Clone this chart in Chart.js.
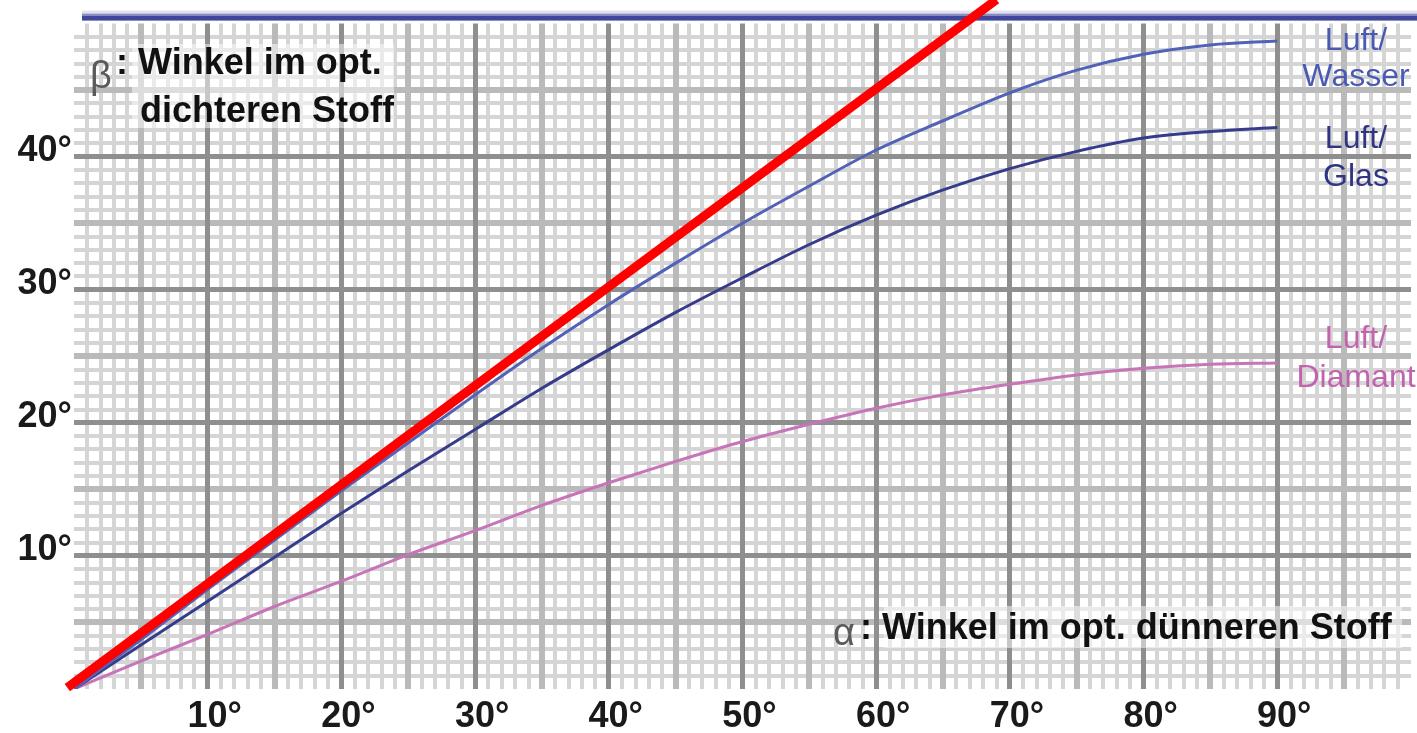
<!DOCTYPE html>
<html>
<head>
<meta charset="utf-8">
<script src="https://cdn.jsdelivr.net/npm/chart.js@4.4.1/dist/chart.umd.min.js"></script>
<style>
  html, body { margin: 0; padding: 0; background: #fff; }
  #wrap { width: 1417px; height: 733px; }
</style>
</head>
<body>
<div id="wrap"><canvas id="brechung"></canvas></div>
<script>
// Einfallswinkel alpha in Grad
const winkel = [0, 5, 10, 15, 20, 25, 30, 35, 40, 45, 50, 55, 60, 65, 70, 75, 80, 85, 90];
// Brechungswinkel beta
const luftWasser = [0, 3.7, 7.5, 11.2, 14.9, 18.5, 22.1, 25.6, 28.9, 32.0, 35.0, 37.8, 40.5, 42.7, 44.8, 46.5, 47.7, 48.4, 48.7];
const luftGlas = [0, 3.3, 6.6, 9.9, 13.2, 16.4, 19.5, 22.6, 25.5, 28.3, 30.9, 33.4, 35.6, 37.5, 39.1, 40.4, 41.4, 41.9, 42.2];
const luftDiamant = [0, 2.1, 4.1, 6.2, 8.1, 10.1, 11.9, 13.8, 15.5, 17.1, 18.6, 19.9, 21.1, 22.1, 22.9, 23.6, 24.1, 24.4, 24.5];
// rote Markierung
const markeX = [-0.5, 69];
const markeY = [0.1, 51.8];
const xBeschriftung = [10, 20, 30, 40, 50, 60, 70, 80, 90];
const yBeschriftung = [10, 20, 30, 40];

const punkte = (xs, ys) => xs.map((x, i) => ({ x: x, y: ys[i] }));

function gitterFarbe(v, max) {
  if (v <= 0 || v >= max) return 'rgba(0,0,0,0)';
  if (v % 10 === 0) return '#8f8f8f';
  if (v % 5 === 0) return '#bababa';
  return '#d5d5d5';
}
function gitterBreite(v) {
  if (v % 10 === 0) return 5;
  if (v % 5 === 0) return 6;
  return 4;
}

const schrift = 'Liberation Sans, Arial, sans-serif';

const beschriftung = {
  id: 'beschriftung',
  beforeDraw(chart) {
    // dunklere Gitterlinien sollen oben liegen
    chart.ctx.save();
    chart.ctx.globalCompositeOperation = 'darken';
  },
  beforeDatasetsDraw(chart) {
    const ctx = chart.ctx;
    ctx.restore();
    const y50 = chart.scales.y.getPixelForValue(50);
    const links = 82;
    const rechts = chart.width;
    ctx.save();
    ctx.fillStyle = '#e0e0ee';
    ctx.fillRect(links, y50 - 13, rechts - links, 3);
    ctx.fillStyle = '#8a8cc0';
    ctx.fillRect(links, y50 - 10, rechts - links, 2);
    ctx.fillStyle = '#40469c';
    ctx.fillRect(links, y50 - 8, rechts - links, 5);

    // helle Flaechen hinter den Achsentiteln
    ctx.fillStyle = 'rgba(255,255,255,0.5)';
    ctx.fillRect(132, 44, 262, 84);
    ctx.fillRect(884, 606, 518, 42);

    ctx.textBaseline = 'alphabetic';
    ctx.font = 'bold 36px ' + schrift;
    ctx.fillStyle = '#111';
    ctx.textAlign = 'left';
    ctx.fillText(': Winkel im opt.', 116, 74);
    ctx.fillText('dichteren Stoff', 140, 122);
    ctx.fillText(': Winkel im opt. dünneren Stoff', 860, 639);
    ctx.fillStyle = '#5a5a5a';
    ctx.font = '38px ' + schrift;
    ctx.fillText('β', 90, 88);
    ctx.fillText('α', 833, 645);

    ctx.font = '32px ' + schrift;
    ctx.textAlign = 'center';
    const xm = 1356;
    ctx.fillStyle = '#4a5ab3';
    ctx.fillText('Luft/', xm, 50);
    ctx.fillText('Wasser', xm, 86);
    ctx.fillStyle = '#2f3582';
    ctx.fillText('Luft/', xm, 148);
    ctx.fillText('Glas', xm, 186);
    ctx.fillStyle = '#c263ae';
    ctx.fillText('Luft/', xm, 348);
    ctx.fillText('Diamant', xm, 387);
    ctx.restore();
  }
};

new Chart(document.getElementById('brechung').getContext('2d'), {
  type: 'line',
  data: {
    datasets: [
      {
        data: punkte(markeX, markeY),
        borderColor: '#ff0000',
        borderWidth: 9,
        pointRadius: 0,
        clip: false
      },
      {
        data: punkte(winkel, luftWasser),
        borderColor: '#5262b8',
        borderWidth: 3,
        pointRadius: 0,
        cubicInterpolationMode: 'monotone'
      },
      {
        data: punkte(winkel, luftGlas),
        borderColor: '#363b8c',
        borderWidth: 3,
        pointRadius: 0,
        cubicInterpolationMode: 'monotone'
      },
      {
        data: punkte(winkel, luftDiamant),
        borderColor: '#c874b8',
        borderWidth: 3,
        pointRadius: 0,
        cubicInterpolationMode: 'monotone'
      }
    ]
  },
  options: {
    responsive: true,
    maintainAspectRatio: false,
    animation: false,
    layout: { padding: { top: 22, right: 0, left: 0, bottom: 0 } },
    plugins: {
      legend: { display: false },
      tooltip: { enabled: false }
    },
    scales: {
      x: {
        type: 'linear',
        min: 0,
        max: 100,
        border: { display: false },
        grid: {
          drawTicks: false,
          color: c => gitterFarbe(c.tick.value, 100),
          lineWidth: c => gitterBreite(c.tick.value)
        },
        ticks: {
          stepSize: 1,
          autoSkip: false,
          maxRotation: 0,
          padding: 6,
          labelOffset: 7,
          color: '#1a1a1a',
          font: { family: schrift, size: 36, weight: 'bold' },
          callback: v => xBeschriftung.includes(v) ? v + '°' : ''
        },
        afterFit: s => { s.height = 44; }
      },
      y: {
        type: 'linear',
        min: 0,
        max: 50,
        border: { display: false },
        grid: {
          drawTicks: false,
          color: c => gitterFarbe(c.tick.value, 50),
          lineWidth: c => gitterBreite(c.tick.value)
        },
        ticks: {
          stepSize: 1,
          autoSkip: false,
          padding: 2,
          labelOffset: -6,
          color: '#1a1a1a',
          font: { family: schrift, size: 36, weight: 'bold' },
          callback: v => yBeschriftung.includes(v) ? v + '°' : ''
        },
        afterFit: s => { s.width = 74; }
      }
    }
  },
  plugins: [beschriftung]
});
</script>
</body>
</html>
